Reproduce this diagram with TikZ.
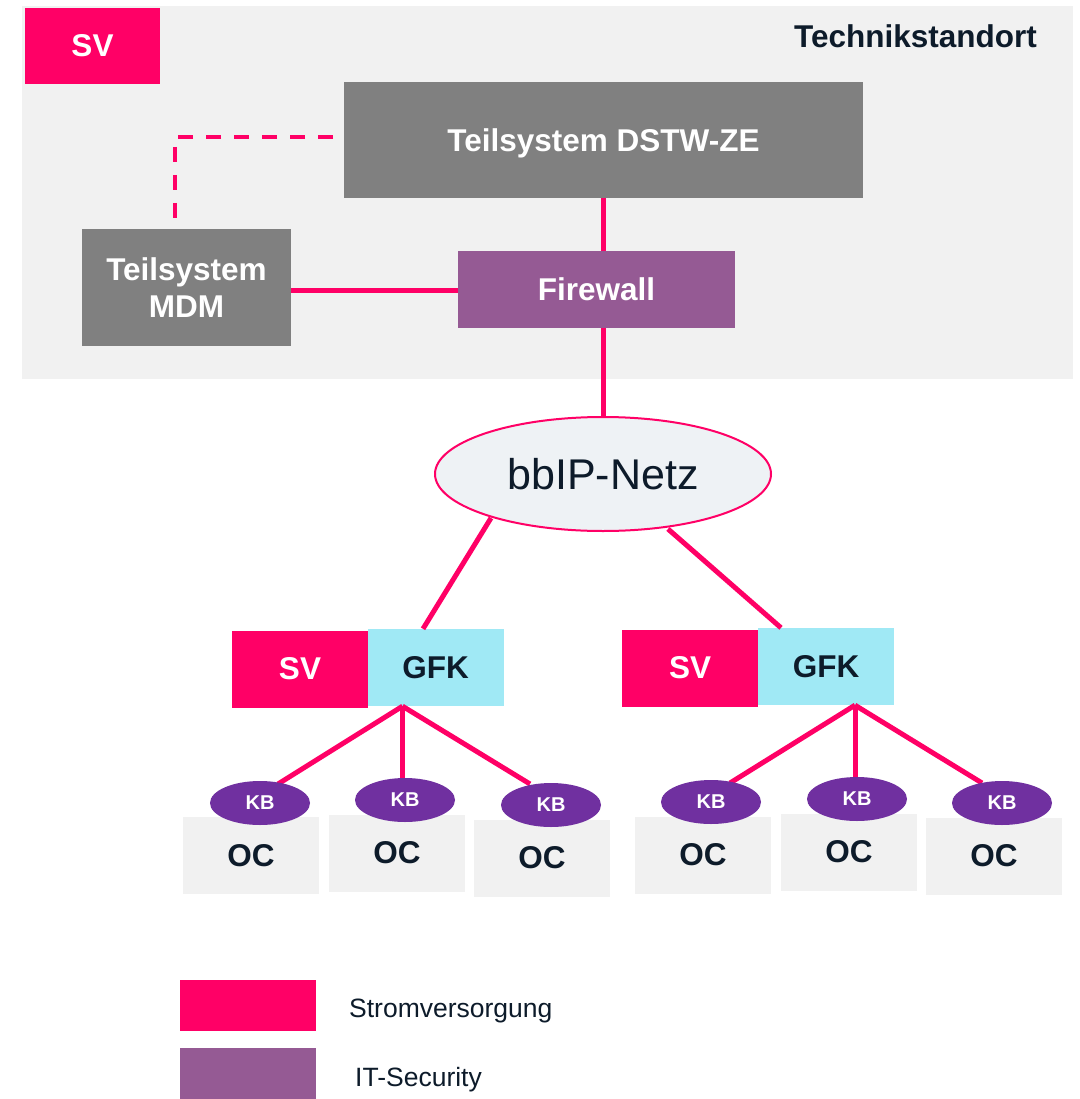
\documentclass[tikz,border=0pt]{standalone}
\usepackage{fontspec}
\setmainfont{Liberation Sans}
\usetikzlibrary{shapes.geometric,calc}
\definecolor{tkpink}{HTML}{FF0066}
\definecolor{tkgray}{HTML}{808080}
\definecolor{tkpurple}{HTML}{955A94}
\definecolor{kbpurple}{HTML}{7030A0}
\definecolor{tkcyan}{HTML}{A0E9F5}
\definecolor{bggray}{HTML}{F1F1F1}
\definecolor{netfill}{HTML}{EEF2F5}
\definecolor{darktext}{HTML}{0D1B2A}
\tikzset{
  box/.style={rectangle, inner sep=0pt, font=\bfseries\fontsize{31.5}{37}\selectfont, text=white},
  capbox/.style={box, text height=22.5pt, text depth=-5pt},
  svbox/.style={box, fill=tkpink, minimum width=136pt, minimum height=77pt},
  gfkbox/.style={box, fill=tkcyan, text=darktext, minimum width=136pt, minimum height=77pt},
  ocbox/.style={box, fill=bggray, text=darktext, minimum width=136pt, minimum height=77pt},
  kbnode/.style={ellipse, inner sep=0pt, fill=kbpurple, text=white, minimum width=100pt, minimum height=44pt, font=\bfseries\fontsize{20}{24}\selectfont},
  conn/.style={draw=tkpink, line width=5pt},
  dashconn/.style={draw=tkpink, line width=4pt, dash pattern=on 15pt off 13pt},
  legtext/.style={anchor=west, inner sep=0pt, text=darktext, font=\fontsize{26.5}{30}\selectfont}
}
\begin{document}
\begin{tikzpicture}[x=1pt,y=-1pt]
\useasboundingbox (0,0) rectangle (1079,1099);
\fill[white] (0,0) rectangle (1079,1099);
% site background
\node[rectangle, fill=bggray, inner sep=0pt, minimum width=1051pt, minimum height=373pt] (site) at (547.5,192.5) {};
\node[svbox, minimum width=135pt, minimum height=76pt] (svtop) at (92.5,46) {SV};
\node[anchor=east, inner sep=0pt, text=darktext, font=\bfseries\fontsize{31.5}{37}\selectfont] (site label) at (1037,36) {Technikstandort};
% top boxes
\node[capbox, fill=tkgray, minimum width=519pt, minimum height=116pt] (dstw) at (603.5,140) {Teilsystem DSTW-ZE};
\node[box, fill=tkgray, minimum width=209pt, minimum height=117pt, align=center] (mdm) at (186.5,287.5) {Teilsystem\\[-0.5pt]MDM};
\node[capbox, fill=tkpurple, minimum width=277pt, minimum height=77pt] (fw) at (596.5,289.5) {Firewall};
% network
\node[ellipse, draw=tkpink, line width=2pt, fill=netfill, inner sep=0pt, minimum width=336pt, minimum height=114pt, text=darktext, font=\fontsize{43}{48}\selectfont] (net) at (603,474) {bbIP-Netz};
% connectors top
\coordinate (d1) at (333,137);
\coordinate (d2) at (175,219);
\draw[dashconn] (d1) -- (d2 |- d1) -- (d2);
\draw[conn] (mdm.east |- 0,290) -- (fw.west |- 0,290);
\draw[conn] (dstw.south) -- (dstw.south |- fw.north);
\draw[conn] (dstw.south |- fw.south) -- (dstw.south |- net.north);
% left group
\node[svbox] (svL) at (300,669) {SV};
\node[gfkbox] (gfkL) at (435.5,667.5) {GFK};
\node[ocbox] (ocL1) at (251,855.5) {OC};
\node[ocbox] (ocL2) at (397,853) {OC};
\node[ocbox] (ocL3) at (542,858) {OC};
% right group
\node[svbox] (svR) at (690,668) {SV};
\node[gfkbox] (gfkR) at (826,666.5) {GFK};
\node[ocbox] (ocR1) at (703,855) {OC};
\node[ocbox] (ocR2) at (849,852) {OC};
\node[ocbox] (ocR3) at (994,856) {OC};
% connectors network
\draw[conn] ($(net.center)+(-112,44)$) -- ($(gfkL.north)+(-12.5,0)$);
\draw[conn] ($(net.center)+(65,55)$) -- ($(gfkR.north)+(-45,0)$);
\coordinate (jL) at ($(gfkL.south)+(-33,0)$);
\coordinate (jR) at ($(gfkR.south)+(29,0)$);
\draw[conn] (jL) -- (278,784);
\draw[conn] (jL) -- (402.5,780);
\draw[conn] (jL) -- (530,784);
\draw[conn] (jR) -- (730,783);
\draw[conn] (jR) -- (855,779);
\draw[conn] (jR) -- (982,783);
% KB nodes
\node[kbnode] (kbL1) at (260,803) {KB};
\node[kbnode] (kbL2) at (405,800) {KB};
\node[kbnode] (kbL3) at (551,805) {KB};
\node[kbnode] (kbR1) at (711,802) {KB};
\node[kbnode] (kbR2) at (857,799) {KB};
\node[kbnode] (kbR3) at (1002,803) {KB};
% legend
\node[rectangle, fill=tkpink, inner sep=0pt, minimum width=136pt, minimum height=51pt] (legsv) at (248,1005.5) {};
\node[rectangle, fill=tkpurple, inner sep=0pt, minimum width=136pt, minimum height=51pt] (legit) at (248,1073.5) {};
\node[legtext] (legsvtext) at (349,1011) {Stromversorgung};
\node[legtext] (legittext) at (355,1080) {IT-Security};
\end{tikzpicture}
\end{document}
